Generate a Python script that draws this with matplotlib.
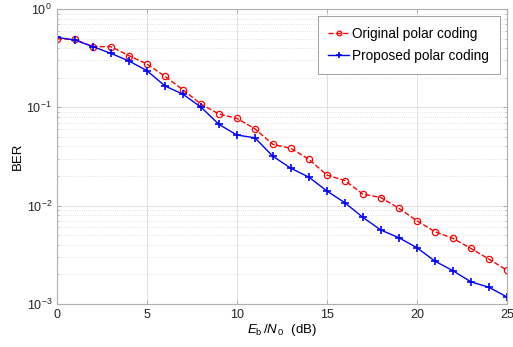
import matplotlib
matplotlib.use("Agg")
import matplotlib.pyplot as plt
import numpy as np

plt.rcParams["font.family"] = ["Liberation Sans", "DejaVu Sans"]
plt.rcParams["mathtext.fontset"] = "custom"
plt.rcParams["mathtext.it"] = "Liberation Sans:italic"
plt.rcParams["mathtext.rm"] = "Liberation Sans"
plt.rcParams["axes.unicode_minus"] = False

# Eb/N0 (dB)
ebn0 = list(range(0, 26))
ber_original = [0.499, 0.49, 0.414, 0.414, 0.335, 0.276, 0.207, 0.151, 0.108, 0.0855,
                0.0773, 0.0605, 0.042, 0.0383, 0.0296, 0.0205, 0.018, 0.0131, 0.0121,
                0.0094, 0.00703, 0.00543, 0.00465, 0.00368, 0.00286, 0.00221]
ber_proposed = [0.515, 0.484, 0.414, 0.354, 0.296, 0.236, 0.165, 0.136, 0.1007, 0.0671,
                0.0523, 0.049, 0.0318, 0.024, 0.0195, 0.0141, 0.0107, 0.0076, 0.00565,
                0.00472, 0.00374, 0.00273, 0.00218, 0.00168, 0.00148, 0.00118]

fig = plt.figure(figsize=(5.13, 3.47), dpi=100)
ax = fig.add_axes([0.111, 0.124, 0.877, 0.850])

ax.semilogy(ebn0, ber_original, "r--o", markersize=4.5, markerfacecolor="none",
            linewidth=1.0, markeredgewidth=0.9, label="Original polar coding")
ax.semilogy(ebn0, ber_proposed, "b-+", markersize=6, linewidth=1.0,
            markeredgewidth=1.2, label="Proposed polar coding")

ax.set_xlim(0, 25)
ax.set_ylim(1e-3, 1)
ax.set_xticks([0, 5, 10, 15, 20, 25])
ax.grid(True, which="major", color="#dcdcdc", linewidth=0.6)
ax.grid(True, which="minor", color="#dcdcdc", linestyle=":", linewidth=0.6)
ax.tick_params(which="both", direction="in", colors="#b0b0b0", labelcolor="#262626",
               labelsize=9, top=True, right=True)
ax.tick_params(which="major", length=3)
ax.tick_params(which="minor", length=1.5)
for s in ax.spines.values():
    s.set_color("#b0b0b0")
    s.set_linewidth(0.8)

ax.set_xlabel(r"$E_{\mathrm{b}}\,/N_{\,0}$  (dB)", fontsize=9.5, labelpad=1)
ax.set_ylabel("BER", fontsize=9.5, labelpad=2)

leg = ax.legend(loc="upper right", fontsize=9.8, fancybox=False, framealpha=1,
                edgecolor="#a0a0a0", handlelength=1.5, borderpad=0.8,
                labelspacing=0.6, handletextpad=0.25, markerscale=0.75,
                borderaxespad=0.5)
leg.get_frame().set_linewidth(0.7)

fig.savefig("out.png", dpi=100)
